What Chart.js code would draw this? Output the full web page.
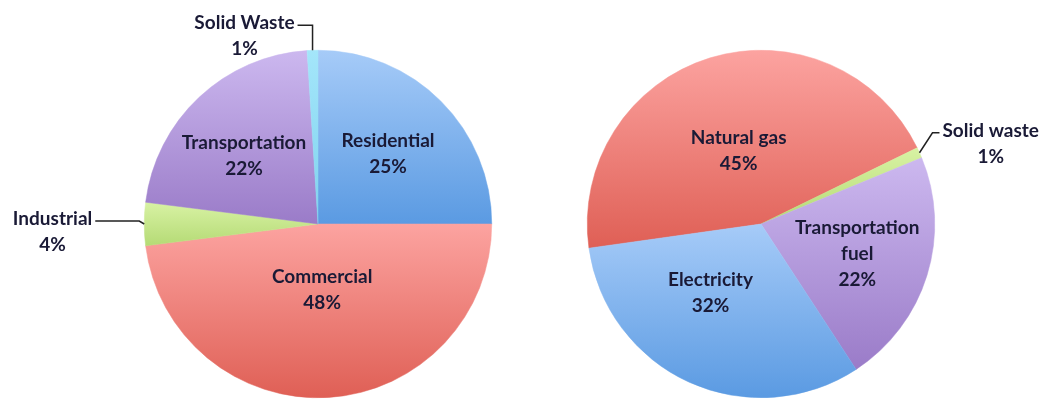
<!DOCTYPE html>
<html>
<head>
<meta charset="utf-8">
<script src="https://cdn.jsdelivr.net/npm/chart.js@4.4.1/dist/chart.umd.min.js"></script>
<style>
  html, body { margin: 0; padding: 0; background: #fff; }
  .wrap { display: flex; width: 1058px; height: 403px; }
  .box { width: 529px; height: 403px; }
</style>
</head>
<body>
<div class="wrap">
  <div class="box"><canvas id="left" width="529" height="403"></canvas></div>
  <div class="box"><canvas id="right" width="529" height="403"></canvas></div>
</div>
<script>
// data
const sectorLabels = ['Residential', 'Commercial', 'Industrial', 'Transportation', 'Solid Waste'];
const sectorValues = [25, 48, 4, 22, 1];

const sourceLabels = ['Natural gas', 'Solid waste', 'Transportation fuel', 'Electricity'];
const sourceValues = [45, 1, 22, 32];

// colours, light (top) -> dark (bottom)
const BLUE   = ['#a6cbf8', '#5a9ae2'];
const RED    = ['#fca3a0', '#df5f55'];
const GREEN  = ['#d8f2a4', '#b4da74'];
const PURPLE = ['#ccb8ef', '#9a7bc8'];
const CYAN   = ['#a4e6fa', '#7fd2ee'];

const TEXT = '#1a1a36';
const FONT = 'bold 19px Lato';

// shade every slice with its own vertical gradient (excel look)
function gradientPlugin(pairs) {
  return {
    id: 'sliceGradient',
    beforeDatasetsDraw(chart) {
      const meta = chart.getDatasetMeta(0);
      meta.data.forEach((arc, i) => {
        const p = arc.getProps(['x', 'y', 'startAngle', 'endAngle', 'outerRadius'], true);
        let ys = [p.y, p.y + Math.sin(p.startAngle) * p.outerRadius, p.y + Math.sin(p.endAngle) * p.outerRadius];
        // top / bottom of circle inside the slice?
        [-Math.PI / 2, Math.PI / 2, 1.5 * Math.PI, 2.5 * Math.PI].forEach(a => {
          if (a >= p.startAngle && a <= p.endAngle) ys.push(p.y + Math.sin(a) * p.outerRadius);
        });
        const top = Math.min(...ys), bot = Math.max(...ys);
        const g = chart.ctx.createLinearGradient(0, top, 0, bot + 1);
        g.addColorStop(0, pairs[i][0]);
        g.addColorStop(1, pairs[i][1]);
        arc.options.backgroundColor = g;
        arc.options.borderColor = g;
      });
    }
  };
}

// labels inside / outside with leader lines
function labelPlugin(text, place) {
  return {
    id: 'sliceLabels',
    afterDatasetsDraw(chart) {
      const meta = chart.getDatasetMeta(0);
      const ctx = chart.ctx;
      ctx.save();
      ctx.font = FONT;
      ctx.fillStyle = TEXT;
      ctx.textAlign = 'center';
      ctx.textBaseline = 'middle';
      meta.data.forEach((arc, i) => {
        const p = arc.getProps(['x', 'y', 'startAngle', 'endAngle', 'outerRadius'], true);
        const lines = text[i];
        const c = place[i];
        const mid = (p.startAngle + p.endAngle) / 2 + (c.shift || 0) * Math.PI / 180;
        if (!c.out) {
          const r = p.outerRadius * c.r;
          const cx = p.x + Math.cos(mid) * r;
          const cy = p.y + Math.sin(mid) * r;
          const y0 = cy - (lines.length - 1) * 13;
          lines.forEach((t, k) => ctx.fillText(t, cx, y0 + k * 26));
        } else {
          const ex = p.x + Math.cos(mid) * p.outerRadius;
          const ey = p.y + Math.sin(mid) * p.outerRadius;
          const bx = ex + c.dx, by = ey + c.dy;
          const endX = bx + c.len;
          ctx.strokeStyle = '#222';
          ctx.lineWidth = 1.5;
          ctx.beginPath();
          ctx.moveTo(ex, ey);
          ctx.lineTo(bx, by);
          ctx.lineTo(endX, by);
          ctx.stroke();
          const w = Math.max(...lines.map(t => ctx.measureText(t).width));
          const cx = c.len < 0 ? endX - 3 - w / 2 : endX + 3 + w / 2;
          lines.forEach((t, k) => ctx.fillText(t, cx, by - 2 + k * 26));
        }
      });
      ctx.restore();
    }
  };
}

function makePie(id, labels, values, rotation, padding, colors, text, place) {
  return new Chart(document.getElementById(id), {
    type: 'pie',
    data: {
      labels: labels,
      datasets: [{ data: values, borderWidth: 0.5 }]
    },
    options: {
      responsive: false,
      animation: false,
      rotation: rotation,
      layout: { padding: padding },
      plugins: {
        legend: { display: false },
        tooltip: { enabled: false }
      }
    },
    plugins: [gradientPlugin(colors), labelPlugin(text, place)]
  });
}

makePie('left', sectorLabels, sectorValues, 0,
  { top: 50, bottom: 5, left: 144, right: 37 },
  [BLUE, RED, GREEN, PURPLE, CYAN],
  [['Residential', '25%'], ['Commercial', '48%'], ['Industrial', '4%'], ['Transportation', '22%'], ['Solid Waste', '1%']],
  [
    { r: 0.57 },
    { r: 0.38 },
    { out: true, dx: -5, dy: -3, len: -44 },
    { r: 0.58, shift: -4 },
    { out: true, dx: 0, dy: -25, len: -15 }
  ]);

makePie('right', sourceLabels, sourceValues, 262,
  { top: 50, bottom: 5, left: 58, right: 123 },
  [RED, GREEN, PURPLE, BLUE],
  [['Natural gas', '45%'], ['Solid waste', '1%'], ['Transportation', 'fuel', '22%'], ['Electricity', '32%']],
  [
    { r: 0.44 },
    { out: true, dx: 13, dy: -20, len: 7 },
    { r: 0.58 },
    { r: 0.49, shift: 12 }
  ]);
</script>
</body>
</html>
